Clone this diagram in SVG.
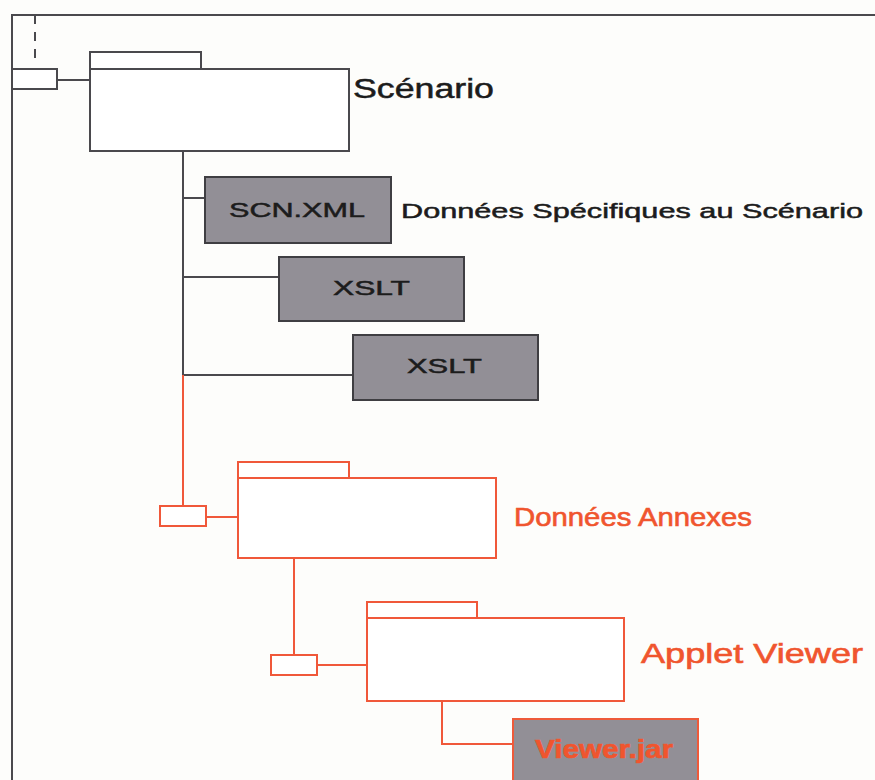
<svg xmlns="http://www.w3.org/2000/svg" width="875" height="780" viewBox="0 0 875 780">
  <style>
    .gray { stroke: #4a494d; stroke-width: 2; fill: none; }
    .red { stroke: #f0583a; stroke-width: 2; fill: none; }
    .folder-gray { stroke: #4a494d; stroke-width: 2; fill: #ffffff; }
    .folder-red { stroke: #f0583a; stroke-width: 2; fill: #ffffff; }
    .file { stroke: #3f3e42; stroke-width: 2; fill: #928f96; }
    .file-red { stroke: #ee5a3a; stroke-width: 2; fill: #928f96; }
    .label { font-family: "Liberation Sans", Arial, sans-serif; fill: #1c1c1c; stroke: #1c1c1c; stroke-width: 0.5; }
    .label-red { font-family: "Liberation Sans", Arial, sans-serif; fill: #f0552e; stroke: #f0552e; stroke-width: 0.6; }
  </style>
  <rect x="0" y="0" width="875" height="780" fill="#fdfdfb"/>

  <!-- outer frame -->
  <g id="frame">
    <path class="gray" d="M12,780 V15 H875"/>
    <line class="gray" x1="35" y1="15" x2="35" y2="63" stroke-dasharray="9,8"/>
  </g>

  <!-- connectors -->
  <g id="connectors">
    <line class="gray" x1="57" y1="80" x2="90" y2="80"/>
    <line class="gray" x1="183" y1="151" x2="183" y2="375"/>
    <line class="gray" x1="183" y1="198" x2="205" y2="198"/>
    <line class="gray" x1="183" y1="277" x2="279" y2="277"/>
    <line class="gray" x1="183" y1="375" x2="353" y2="375"/>
    <line class="red" x1="183" y1="375" x2="183" y2="506"/>
    <line class="red" x1="206" y1="517" x2="238" y2="517"/>
    <line class="red" x1="294" y1="558" x2="294" y2="655"/>
    <line class="red" x1="317" y1="665" x2="367" y2="665"/>
    <path class="red" d="M442,701 V744 H513"/>
  </g>

  <g id="scenario">
    <rect class="folder-gray" x="12" y="69" width="45" height="20"/>
    <rect class="folder-gray" x="90" y="52" width="111" height="17"/>
    <rect class="folder-gray" x="90" y="69" width="259" height="82"/>
    <text class="label" x="353" y="98" font-size="27" textLength="141" lengthAdjust="spacingAndGlyphs">Scénario</text>
  </g>

  <g id="scn-xml">
    <rect class="file" x="205" y="177" width="186" height="66"/>
    <text class="label" x="229" y="217" font-size="21" textLength="136" lengthAdjust="spacingAndGlyphs">SCN.XML</text>
    <text class="label" x="401" y="218" font-size="21" textLength="462" lengthAdjust="spacingAndGlyphs">Données  Spécifiques au Scénario</text>
  </g>

  <g id="xslt-1">
    <rect class="file" x="279" y="257" width="185" height="64"/>
    <text class="label" x="333" y="295" font-size="21" textLength="77" lengthAdjust="spacingAndGlyphs">XSLT</text>
  </g>

  <g id="xslt-2">
    <rect class="file" x="353" y="335" width="185" height="65"/>
    <text class="label" x="407" y="373" font-size="21" textLength="75" lengthAdjust="spacingAndGlyphs">XSLT</text>
  </g>

  <g id="donnees-annexes">
    <rect class="folder-red" x="160" y="506" width="46" height="20"/>
    <rect class="folder-red" x="238" y="462" width="111" height="16"/>
    <rect class="folder-red" x="238" y="478" width="258" height="80"/>
    <text class="label-red" x="514" y="526" font-size="25" textLength="238" lengthAdjust="spacingAndGlyphs">Données Annexes</text>
  </g>

  <g id="applet-viewer">
    <rect class="folder-red" x="271" y="655" width="46" height="20"/>
    <rect class="folder-red" x="367" y="602" width="110" height="16"/>
    <rect class="folder-red" x="367" y="618" width="257" height="83"/>
    <text class="label-red" x="641" y="663" font-size="27" textLength="222" lengthAdjust="spacingAndGlyphs">Applet Viewer</text>
  </g>

  <g id="viewer-jar">
    <rect class="file-red" x="513" y="719" width="185" height="70"/>
    <text class="label-red" x="535" y="758" font-size="25" font-weight="bold" textLength="138" lengthAdjust="spacingAndGlyphs">Viewer.jar</text>
  </g>
</svg>
